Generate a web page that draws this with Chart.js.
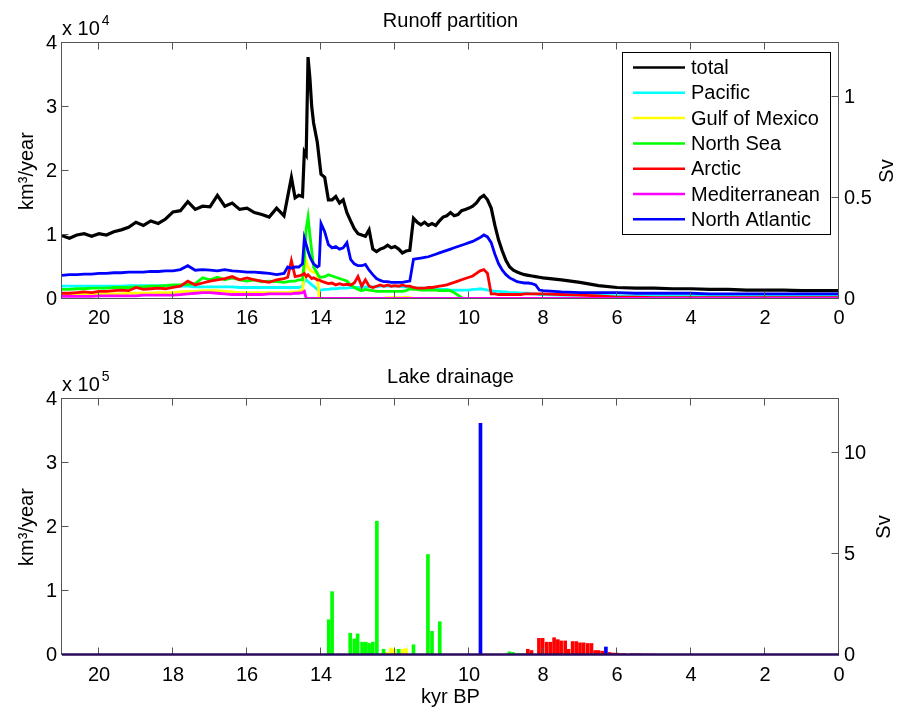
<!DOCTYPE html>
<html>
<head>
<meta charset="utf-8">
<script src="https://cdn.jsdelivr.net/npm/chart.js@4.4.1/dist/chart.umd.min.js"></script>
<style>
  body { margin: 0; background: #fff; }
  #wrap { position: relative; width: 898px; height: 708px; }
  #wrap canvas { position: absolute; left: 0; }
</style>
</head>
<body>
<div id="wrap">
  <canvas id="runoff" width="898" height="350" style="top:0"></canvas>
  <canvas id="lakes" width="898" height="358" style="top:350px"></canvas>
</div>
<script>
// ---- data -------------------------------------------------------------
// runoff partition, units of 10^4 km3/year, sampled at kyrBP
const kyrBP = [
  21.0, 20.8, 20.6, 20.4, 20.2, 20.0, 19.8, 19.6, 19.4, 19.2,
  19.0, 18.8, 18.6, 18.4, 18.2, 18.0, 17.8, 17.6, 17.4, 17.2,
  17.0, 16.8, 16.6, 16.4, 16.2, 16.0, 15.8, 15.6, 15.4, 15.2, 15.0,
  14.9, 14.8, 14.7, 14.6, 14.5, 14.45, 14.4, 14.35, 14.3, 14.25, 14.2, 14.1, 14.05, 14.0,
  13.9, 13.8, 13.7, 13.6, 13.5, 13.4, 13.3, 13.2, 13.1, 13.0,
  12.9, 12.8, 12.7, 12.6, 12.5, 12.4, 12.3, 12.2, 12.1, 12.0,
  11.9, 11.8, 11.7, 11.6, 11.5, 11.4, 11.3, 11.2, 11.1, 11.0,
  10.9, 10.8, 10.7, 10.6, 10.5, 10.4, 10.3, 10.2, 10.1, 10.0,
  9.9, 9.8, 9.7, 9.6, 9.5, 9.4, 9.3, 9.2, 9.1, 9.0,
  8.9, 8.8, 8.7, 8.6, 8.5, 8.4, 8.3, 8.2, 8.1, 8.0,
  7.5, 7.0, 6.5, 6.0, 5.5, 5.0, 4.5, 4.0, 3.5, 3.0, 2.5, 2.0, 1.5, 1.0, 0.5, 0.0
];
const runoffTotal = [
  0.99, 0.95, 1.00, 1.02, 0.98, 1.02, 1.00, 1.05, 1.08, 1.12,
  1.20, 1.15, 1.22, 1.18, 1.25, 1.36, 1.38, 1.52, 1.40, 1.45,
  1.44, 1.62, 1.45, 1.50, 1.40, 1.42, 1.35, 1.32, 1.28, 1.42, 1.30,
  1.60, 1.90, 1.58, 1.62, 1.60, 2.30, 2.25, 3.78, 3.45, 3.00, 2.75, 2.45, 2.20, 1.95,
  1.90, 1.55, 1.55, 1.60, 1.50, 1.55, 1.35, 1.22, 1.10, 1.02,
  1.00, 0.98, 1.08, 0.78, 0.74, 0.78, 0.80, 0.84, 0.80, 0.82,
  0.78, 0.72, 0.75, 0.76, 1.26, 1.20, 1.16, 1.20, 1.15, 1.18,
  1.15, 1.22, 1.28, 1.30, 1.35, 1.30, 1.32, 1.38, 1.40, 1.42,
  1.45, 1.50, 1.58, 1.62, 1.55, 1.42, 1.15, 0.92, 0.75, 0.60,
  0.50, 0.45, 0.42, 0.40, 0.38, 0.37, 0.36, 0.35, 0.34, 0.33,
  0.30, 0.26, 0.21, 0.18, 0.17, 0.17, 0.16, 0.16, 0.15, 0.15, 0.14, 0.14, 0.14, 0.13, 0.13, 0.13
];
const runoffPacific = [
  0.20, 0.20, 0.20, 0.20, 0.20, 0.20, 0.20, 0.20, 0.20, 0.21,
  0.21, 0.21, 0.21, 0.21, 0.21, 0.21, 0.20, 0.20, 0.19, 0.19,
  0.19, 0.19, 0.19, 0.19, 0.18, 0.18, 0.18, 0.18, 0.18, 0.18, 0.18,
  0.18, 0.18, 0.18, 0.18, 0.20, 0.28, 0.30, 0.27, 0.25, 0.22, 0.20, 0.15, 0.14, 0.14,
  0.15, 0.15, 0.16, 0.16, 0.17, 0.17, 0.17, 0.18, 0.18, 0.18,
  0.18, 0.19, 0.19, 0.19, 0.19, 0.20, 0.20, 0.20, 0.20, 0.20,
  0.20, 0.19, 0.19, 0.18, 0.18, 0.17, 0.17, 0.17, 0.16, 0.16,
  0.16, 0.15, 0.15, 0.15, 0.14, 0.14, 0.14, 0.14, 0.14, 0.14,
  0.15, 0.15, 0.16, 0.15, 0.14, 0.13, 0.12, 0.12, 0.11, 0.11,
  0.10, 0.10, 0.10, 0.09, 0.09, 0.09, 0.08, 0.08, 0.07, 0.07,
  0.06, 0.06, 0.06, 0.05, 0.05, 0.05, 0.05, 0.05, 0.05, 0.05, 0.05, 0.05, 0.05, 0.05, 0.05, 0.05
];
const runoffGulf = [
  0.07, 0.07, 0.07, 0.07, 0.08, 0.08, 0.08, 0.08, 0.08, 0.09,
  0.09, 0.09, 0.09, 0.10, 0.10, 0.10, 0.11, 0.12, 0.12, 0.13,
  0.13, 0.13, 0.12, 0.11, 0.10, 0.10, 0.10, 0.10, 0.10, 0.10, 0.10,
  0.10, 0.11, 0.11, 0.12, 0.14, 0.40, 0.60, 0.50, 0.45, 0.43, 0.42, 0.40, 0.01, 0.01,
  0.01, 0.01, 0.01, 0.01, 0.01, 0.01, 0.01, 0.01, 0.01, 0.01,
  0.01, 0.01, 0.01, 0.01, 0.01, 0.01, 0.01, 0.02, 0.02, 0.02,
  0.02, 0.02, 0.03, 0.02, 0.01, 0.01, 0.01, 0.01, 0.01, 0.01,
  0.01, 0.01, 0.01, 0.01, 0.01, 0.01, 0.01, 0.01, 0.01, 0.01,
  0.01, 0.01, 0.01, 0.01, 0.01, 0.01, 0.01, 0.01, 0.01, 0.01,
  0.01, 0.01, 0.01, 0.01, 0.01, 0.01, 0.01, 0.01, 0.01, 0.01,
  0.01, 0.01, 0.01, 0.01, 0.01, 0.01, 0.01, 0.01, 0.01, 0.01, 0.01, 0.01, 0.01, 0.01, 0.01, 0.01
];
const runoffNorthSea = [
  0.15, 0.15, 0.16, 0.16, 0.17, 0.17, 0.17, 0.18, 0.18, 0.18,
  0.19, 0.19, 0.20, 0.20, 0.21, 0.22, 0.22, 0.23, 0.24, 0.33,
  0.30, 0.34, 0.30, 0.33, 0.30, 0.28, 0.30, 0.27, 0.28, 0.27, 0.26,
  0.27, 0.28, 0.28, 0.30, 0.30, 0.60, 1.10, 1.28, 1.00, 0.75, 0.50, 0.40, 0.35, 0.34,
  0.35, 0.38, 0.36, 0.34, 0.32, 0.30, 0.28, 0.22, 0.18, 0.15,
  0.13, 0.15, 0.14, 0.13, 0.12, 0.12, 0.12, 0.12, 0.12, 0.12,
  0.12, 0.12, 0.13, 0.16, 0.15, 0.15, 0.14, 0.14, 0.14, 0.14,
  0.14, 0.13, 0.13, 0.13, 0.13, 0.10, 0.06, 0.02, 0.00, 0.00,
  0.00, 0.00, 0.00, 0.00, 0.00, 0.00, 0.00, 0.00, 0.00, 0.00,
  0.00, 0.00, 0.00, 0.00, 0.00, 0.00, 0.00, 0.00, 0.00, 0.00,
  0.00, 0.00, 0.00, 0.00, 0.00, 0.00, 0.00, 0.00, 0.00, 0.00, 0.00, 0.00, 0.00, 0.00, 0.00, 0.00
];
const runoffArctic = [
  0.09, 0.09, 0.10, 0.11, 0.10, 0.12, 0.12, 0.13, 0.14, 0.13,
  0.18, 0.15, 0.16, 0.17, 0.16, 0.18, 0.20, 0.28, 0.22, 0.25,
  0.28, 0.30, 0.32, 0.35, 0.30, 0.33, 0.30, 0.28, 0.26, 0.30, 0.32,
  0.34, 0.60, 0.35, 0.36, 0.38, 0.40, 0.35, 0.38, 0.35, 0.32, 0.33, 0.30, 0.30, 0.28,
  0.26, 0.24, 0.25, 0.22, 0.24, 0.22, 0.23, 0.22, 0.25, 0.35,
  0.20, 0.30, 0.20, 0.18, 0.20, 0.22, 0.20, 0.22, 0.20, 0.21,
  0.20, 0.22, 0.20, 0.20, 0.18, 0.17, 0.17, 0.17, 0.18, 0.18,
  0.19, 0.20, 0.21, 0.22, 0.24, 0.26, 0.28, 0.30, 0.32, 0.34,
  0.36, 0.40, 0.44, 0.46, 0.40, 0.08, 0.08, 0.07, 0.07, 0.07,
  0.07, 0.07, 0.07, 0.07, 0.08, 0.08, 0.08, 0.08, 0.08, 0.08,
  0.07, 0.06, 0.05, 0.03, 0.03, 0.02, 0.02, 0.02, 0.02, 0.02, 0.02, 0.02, 0.02, 0.02, 0.02, 0.02
];
const runoffMediterranean = [
  0.04, 0.04, 0.04, 0.04, 0.04, 0.05, 0.05, 0.05, 0.05, 0.05,
  0.05, 0.06, 0.06, 0.06, 0.06, 0.06, 0.07, 0.08, 0.09, 0.10,
  0.10, 0.09, 0.08, 0.07, 0.07, 0.07, 0.07, 0.07, 0.08, 0.08, 0.08,
  0.08, 0.08, 0.09, 0.09, 0.10, 0.12, 0.01, 0.01, 0.01, 0.01, 0.01, 0.01, 0.01, 0.01,
  0.01, 0.01, 0.01, 0.01, 0.01, 0.01, 0.01, 0.01, 0.01, 0.01,
  0.01, 0.01, 0.01, 0.01, 0.01, 0.01, 0.01, 0.01, 0.01, 0.01,
  0.01, 0.01, 0.01, 0.01, 0.01, 0.01, 0.01, 0.01, 0.01, 0.01,
  0.01, 0.01, 0.01, 0.01, 0.01, 0.01, 0.01, 0.01, 0.01, 0.01,
  0.01, 0.01, 0.01, 0.01, 0.01, 0.01, 0.01, 0.01, 0.01, 0.01,
  0.01, 0.01, 0.01, 0.01, 0.01, 0.01, 0.01, 0.01, 0.01, 0.01,
  0.01, 0.01, 0.01, 0.01, 0.01, 0.01, 0.01, 0.01, 0.01, 0.01, 0.01, 0.01, 0.01, 0.01, 0.01, 0.01
];
const runoffNorthAtlantic = [
  0.37, 0.38, 0.38, 0.39, 0.39, 0.40, 0.40, 0.41, 0.41, 0.42,
  0.42, 0.42, 0.43, 0.43, 0.44, 0.44, 0.46, 0.52, 0.45, 0.46,
  0.45, 0.44, 0.46, 0.44, 0.43, 0.42, 0.42, 0.41, 0.40, 0.38, 0.40,
  0.50, 0.48, 0.50, 0.50, 0.55, 0.95, 0.85, 0.75, 0.66, 0.60, 0.55, 0.50, 0.52, 1.18,
  1.05, 0.85, 0.80, 0.82, 0.78, 0.80, 0.88, 0.62, 0.55, 0.52,
  0.52, 0.54, 0.45, 0.38, 0.32, 0.29, 0.27, 0.27, 0.26, 0.26,
  0.26, 0.26, 0.27, 0.28, 0.62, 0.63, 0.64, 0.65, 0.66, 0.68,
  0.70, 0.72, 0.74, 0.76, 0.78, 0.80, 0.82, 0.84, 0.86, 0.88,
  0.90, 0.93, 0.96, 1.00, 0.97, 0.88, 0.70, 0.55, 0.45, 0.38,
  0.33, 0.30, 0.27, 0.26, 0.25, 0.25, 0.24, 0.22, 0.14, 0.13,
  0.11, 0.10, 0.10, 0.10, 0.09, 0.09, 0.09, 0.09, 0.08, 0.08, 0.08, 0.08, 0.08, 0.08, 0.08, 0.08
];

// lake drainage events, units of 10^5 km3/year
const lakeNorthSeaKyr = [13.79, 13.7, 13.21, 13.1, 13.01, 12.89, 12.79, 12.7, 12.6, 12.49, 12.31, 11.9, 11.5, 11.11, 11.0, 10.79, 9.02, 8.91, 8.81, 8.7, 8.6, 8.5];
const lakeNorthSea = [0.55, 0.99, 0.34, 0.25, 0.33, 0.20, 0.20, 0.18, 0.20, 2.09, 0.09, 0.09, 0.16, 1.57, 0.37, 0.52, 0.01, 0.05, 0.04, 0.02, 0.02, 0.02];
const lakeGulfKyr = [12.22, 12.11, 12.02, 11.79, 11.7];
const lakeGulf = [0.04, 0.11, 0.09, 0.09, 0.10];
const lakeNorthAtlanticKyr = [9.69, 6.3];
const lakeNorthAtlantic = [3.62, 0.125];
const lakeArcticKyr = [8.41, 8.31, 8.11, 8.01, 7.9, 7.8, 7.7, 7.6, 7.51, 7.4, 7.31, 7.2, 7.1, 7.0, 6.9,
  6.79, 6.69, 6.59, 6.5, 6.4, 6.2, 6.1, 6.0, 5.9, 5.8, 5.6, 5.5, 5.4, 5.3, 5.2,
  5.1, 5.0, 4.9, 4.8, 4.6, 4.5, 4.4, 4.3, 4.2, 4.1, 3.9, 3.8, 3.7];
const lakeArctic = [0.09, 0.07, 0.26, 0.26, 0.20, 0.20, 0.27, 0.24, 0.22, 0.22, 0.09, 0.21, 0.21, 0.19, 0.19,
  0.18, 0.18, 0.07, 0.07, 0.06, 0.04, 0.03, 0.03, 0.02, 0.02, 0.02, 0.02, 0.02, 0.015, 0.015,
  0.015, 0.015, 0.01, 0.01, 0.01, 0.01, 0.01, 0.01, 0.01, 0.01, 0.01, 0.008, 0.005];

// ticks
const kyrTicks = [20, 18, 16, 14, 12, 10, 8, 6, 4, 2, 0];
const runoffTicks = [0, 1, 2, 3, 4];
const runoffSvTicks = [0, 0.5, 1];
const lakeTicks = [0, 1, 2, 3, 4];
const lakeSvTicks = [0, 5, 10];

const KM3_PER_YEAR_PER_SV = 31557.6;

// ---- helpers ----------------------------------------------------------
const FONT = "'Liberation Sans', Arial, Helvetica, sans-serif";
Chart.defaults.font.family = FONT;
Chart.defaults.font.size = 20;
Chart.defaults.color = '#000';

const setTicks = list => axis => { axis.ticks = list.map(v => ({ value: v })); };

function makeScales(o) {
  return {
    x: {
      type: 'linear', reverse: true, min: 0, max: 21, offset: false,
      afterBuildTicks: setTicks(kyrTicks),
      ticks: { padding: o.xPad, maxRotation: 0, autoSkip: false },
      grid: { display: false, drawTicks: false },
      border: { display: false },
      afterFit: s => { s.height = o.xHeight; }
    },
    y: {
      position: 'left', min: 0, max: o.yMax,
      afterBuildTicks: setTicks(o.yTicks),
      ticks: { padding: 5 },
      grid: { display: false, drawTicks: false },
      border: { display: false },
      afterFit: s => { s.width = 62; }
    },
    y2: {
      position: 'right', min: 0, max: o.yMax * o.scale / KM3_PER_YEAR_PER_SV,
      afterBuildTicks: setTicks(o.svTicks),
      ticks: { padding: 5, callback: v => String(v) },
      grid: { display: false, drawTicks: false },
      border: { display: false },
      afterFit: s => { s.width = 59; }
    }
  };
}

// MATLAB-style axes box, inward ticks, labels and legend
function framePlugin(cfg) {
  return {
    id: 'matlabFrame',
    afterDatasetsDraw(chart) {
      const { ctx, chartArea: a, scales } = chart;
      const L = a.left - 0.5, R = a.right - 0.5, T = a.top - 0.5, B = a.bottom - 0.5;
      ctx.save();
      ctx.strokeStyle = '#555';
      ctx.lineWidth = 1;
      ctx.beginPath();
      scales.x.ticks.forEach(t => {
        const x = Math.round(scales.x.getPixelForValue(t.value)) - 0.5;
        ctx.moveTo(x, B); ctx.lineTo(x, B - 7);
        ctx.moveTo(x, T); ctx.lineTo(x, T + 7);
      });
      scales.y.ticks.forEach(t => {
        const y = Math.round(scales.y.getPixelForValue(t.value)) - 0.5;
        ctx.moveTo(L, y); ctx.lineTo(L + 7, y);
      });
      scales.y2.ticks.forEach(t => {
        const y = Math.round(scales.y2.getPixelForValue(t.value)) - 0.5;
        ctx.moveTo(R, y); ctx.lineTo(R - 7, y);
      });
      ctx.stroke();
      ctx.strokeRect(L, T, R - L, B - T);
      if (cfg.baseline) {
        ctx.strokeStyle = cfg.baseline;
        ctx.lineWidth = 2.5;
        const y0 = scales.y.getPixelForValue(0) - 0.5;
        ctx.beginPath(); ctx.moveTo(a.left, y0); ctx.lineTo(a.right, y0); ctx.stroke();
      }
      ctx.restore();
    },
    afterDraw(chart) {
      const { ctx, chartArea: a } = chart;
      const midX = (a.left + a.right) / 2, midY = (a.top + a.bottom) / 2;
      ctx.save();
      ctx.fillStyle = '#000';
      ctx.textBaseline = 'alphabetic';
      ctx.font = '20px ' + FONT;
      ctx.textAlign = 'center';
      ctx.fillText(cfg.title, midX, a.top - 16);
      if (cfg.xTitle) ctx.fillText(cfg.xTitle, midX, cfg.xTitleY);

      ctx.textAlign = 'left';
      const base = 'x 10';
      ctx.fillText(base, a.left, a.top - 8);
      const w = ctx.measureText(base).width;
      ctx.font = '14px ' + FONT;
      ctx.fillText(cfg.exponent, a.left + w + 2, a.top - 18);

      ctx.font = '20px ' + FONT;
      ctx.textAlign = 'center';
      ctx.save();
      ctx.translate(33, midY); ctx.rotate(-Math.PI / 2);
      ctx.fillText('km³/year', 0, 0);
      ctx.restore();
      ctx.save();
      ctx.translate(cfg.svX, midY); ctx.rotate(-Math.PI / 2);
      ctx.fillText('Sv', 0, 0);
      ctx.restore();

      if (cfg.legend) {
        const g = cfg.legend;
        ctx.fillStyle = '#fff';
        ctx.fillRect(g.x, g.y, g.w, g.h);
        ctx.strokeStyle = '#000';
        ctx.lineWidth = 1;
        ctx.strokeRect(g.x + 0.5, g.y + 0.5, g.w, g.h);
        ctx.textAlign = 'left';
        ctx.textBaseline = 'middle';
        chart.data.datasets.forEach((ds, i) => {
          const yy = g.first + i * g.row;
          ctx.strokeStyle = ds.borderColor;
          ctx.lineWidth = 2.5;
          ctx.beginPath(); ctx.moveTo(g.x + 11, yy); ctx.lineTo(g.x + 63, yy); ctx.stroke();
          ctx.fillStyle = '#000';
          ctx.fillText(ds.label, g.x + 69, yy + 1);
        });
      }
      ctx.restore();
    }
  };
}

// ---- runoff partition --------------------------------------------------
const runoffSeries = [
  { label: 'total', color: '#000000', values: runoffTotal },
  { label: 'Pacific', color: '#00ffff', values: runoffPacific },
  { label: 'Gulf of Mexico', color: '#ffff00', values: runoffGulf },
  { label: 'North Sea', color: '#00ff00', values: runoffNorthSea },
  { label: 'Arctic', color: '#ff0000', values: runoffArctic },
  { label: 'Mediterranean', color: '#ff00ff', values: runoffMediterranean },
  { label: 'North Atlantic', color: '#0000ff', values: runoffNorthAtlantic }
];

new Chart(document.getElementById('runoff'), {
  type: 'line',
  data: {
    datasets: runoffSeries.map((s, i) => ({
      label: s.label,
      data: kyrBP.map((t, k) => ({ x: t, y: s.values[k] })),
      borderColor: s.color,
      borderWidth: i === 0 ? 3.2 : 2.8,
      pointRadius: 0,
      tension: 0,
      fill: false,
      yAxisID: 'y',
      order: runoffSeries.length - i
    }))
  },
  options: {
    responsive: false,
    animation: false,
    layout: { padding: { top: 43 } },
    plugins: { legend: { display: false }, tooltip: { enabled: false } },
    scales: makeScales({ xPad: 7, xHeight: 51, yMax: 4, scale: 1e4, yTicks: runoffTicks, svTicks: runoffSvTicks })
  },
  plugins: [framePlugin({
    title: 'Runoff partition', exponent: '4', svX: 893,
    legend: { x: 622, y: 52, w: 208, h: 182, first: 67.5, row: 25.3 }
  })]
});

// ---- lake drainage -----------------------------------------------------
const lakeSeries = [
  { label: 'North Sea', color: '#00ff00', kyr: lakeNorthSeaKyr, values: lakeNorthSea },
  { label: 'Gulf of Mexico', color: '#ffff00', kyr: lakeGulfKyr, values: lakeGulf },
  { label: 'North Atlantic', color: '#0000ff', kyr: lakeNorthAtlanticKyr, values: lakeNorthAtlantic },
  { label: 'Arctic', color: '#ff0000', kyr: lakeArcticKyr, values: lakeArctic }
];

new Chart(document.getElementById('lakes'), {
  type: 'bar',
  data: {
    datasets: lakeSeries.map(s => ({
      label: s.label,
      data: s.kyr.map((t, k) => ({ x: t, y: s.values[k] })),
      backgroundColor: s.color,
      borderWidth: 0,
      barThickness: 3,
      grouped: false,
      yAxisID: 'y'
    }))
  },
  options: {
    responsive: false,
    animation: false,
    layout: { padding: { top: 49 } },
    plugins: { legend: { display: false }, tooltip: { enabled: false } },
    scales: makeScales({ xPad: 8, xHeight: 53, yMax: 4, scale: 1e5, yTicks: lakeTicks, svTicks: lakeSvTicks })
  },
  plugins: [framePlugin({
    title: 'Lake drainage', exponent: '5', svX: 890,
    xTitle: 'kyr BP', xTitleY: 353, baseline: '#2a0a5e'
  })]
});
</script>
</body>
</html>
